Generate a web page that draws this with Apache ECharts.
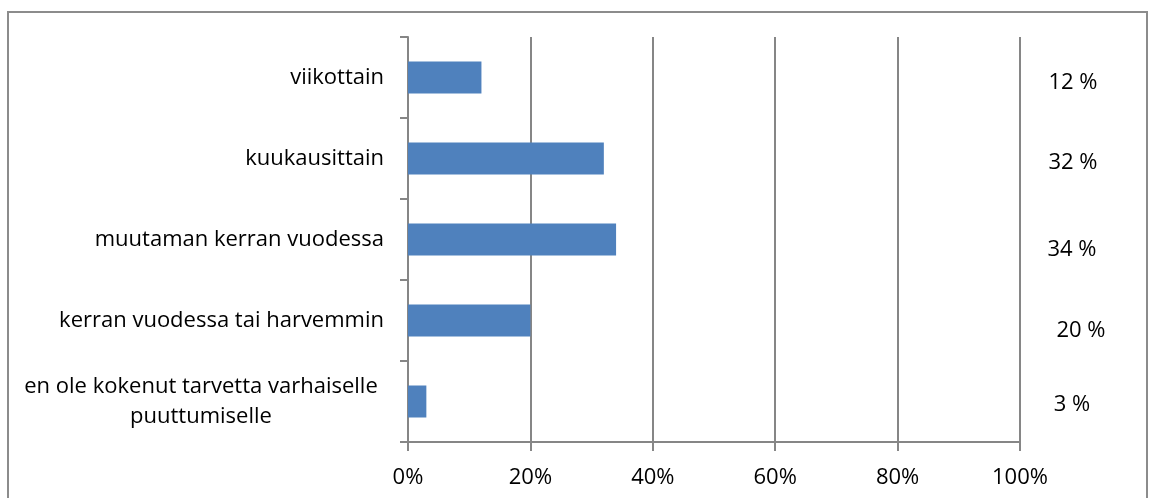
<!DOCTYPE html>
<html>
<head>
<meta charset="utf-8">
<script src="https://cdn.jsdelivr.net/npm/echarts@6/dist/echarts.min.js"></script>
<style>
  html, body { margin: 0; padding: 0; background: #fff; }
  #frame { position: absolute; left: 7px; top: 11px; width: 1141px; height: 500px; border: 2px solid #8c8c8c; box-sizing: border-box; }
  #chart { position: absolute; left: 0; top: 0; width: 1152px; height: 498px; }
</style>
</head>
<body>
<div id="frame"></div>
<div id="chart"></div>
<script>
// Response categories, top to bottom
const categories = [
  'viikottain',
  'kuukausittain',
  'muutaman kerran vuodessa',
  'kerran vuodessa tai harvemmin',
  'en ole kokenut tarvetta varhaiselle\npuuttumiselle'
];
// Share of respondents (%)
const shares = [12, 32, 34, 20, 3];
// Value-axis tick labels
const xTicks = ['0%', '20%', '40%', '60%', '80%', '100%'];

// Small hand nudges of the value texts on the right (dx, dy in px)
const valueNudge = [[0, 5], [0, 4], [-1, 10], [8, 10], [-1, 3]];

const FONT = '"Open Sans", sans-serif';
const FS = 22;
const AXIS_GRAY = '#868686';

const rich = {};
shares.forEach((v, i) => {
  const [dx, dy] = valueNudge[i];
  rich['v' + i] = {
    fontFamily: FONT, fontSize: FS, color: '#000',
    padding: [Math.max(0, 2 * dy), Math.max(0, -2 * dx), Math.max(0, -2 * dy), Math.max(0, 2 * dx)]
  };
});

const chart = echarts.init(document.getElementById('chart'));
chart.setOption({
  animation: false,
  grid: { left: 408, right: 132, top: 37, bottom: 56, containLabel: false },
  xAxis: {
    type: 'value', min: 0, max: 100, interval: 20,
    axisLine: { show: true, lineStyle: { color: AXIS_GRAY, width: 2 } },
    axisTick: { show: true, length: 9, lineStyle: { color: AXIS_GRAY, width: 2 } },
    splitLine: { show: true, lineStyle: { color: AXIS_GRAY, width: 2 } },
    axisLabel: {
      margin: 25, fontFamily: FONT, fontSize: FS, color: '#000',
      formatter: v => xTicks[Math.round(v / 20)]
    }
  },
  yAxis: [{
    type: 'category', data: categories, inverse: true,
    axisLine: { show: true, lineStyle: { color: AXIS_GRAY, width: 2 } },
    axisTick: { show: true, length: 8, lineStyle: { color: AXIS_GRAY, width: 2 } },
    axisLabel: {
      margin: 24, fontFamily: FONT, fontSize: FS, color: '#000',
      align: 'right', lineHeight: 30,
      formatter: v => {
        const lines = v.split('\n');
        return lines.length > 1 ? lines.map(l => '{c|' + l + '}').join('\n') : v;
      },
      rich: { c: { fontFamily: FONT, fontSize: FS, color: '#000', align: 'center', lineHeight: 30, width: 366 } }
    }
  }, {
    type: 'category', data: categories, inverse: true, position: 'right',
    axisLine: { show: false }, axisTick: { show: false },
    axisLabel: {
      margin: 53, align: 'center',
      formatter: (v, i) => '{v' + i + '|' + shares[i] + ' %}',
      rich: rich
    }
  }],
  series: [{
    type: 'bar', data: shares, barWidth: 32,
    itemStyle: { color: '#4F81BD' }
  }]
});
</script>
</body>
</html>
